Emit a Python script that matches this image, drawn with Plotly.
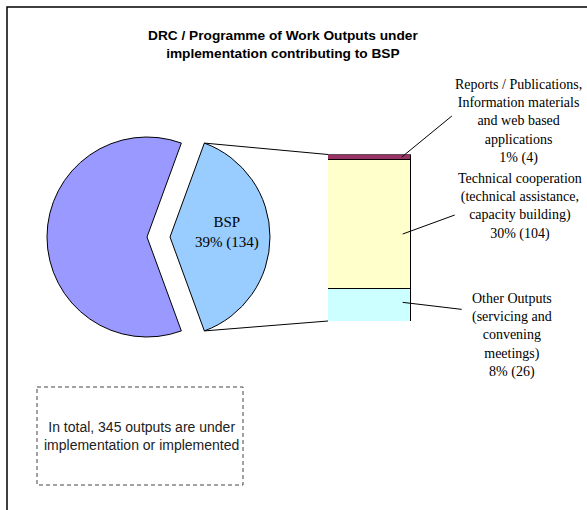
import math
import plotly.graph_objects as go

# ---------------- data ----------------
total_outputs = 345
pie_labels = ["BSP", "Other"]
pie_values = [134, 211]
pie_colors = ["#99CCFF", "#9999FF"]

bar_names = [
    "Other Outputs<br>(servicing and<br>convening<br>meetings)",
    "Technical cooperation<br>(technical assistance,<br>capacity building)",
    "Reports / Publications,<br>Information materials<br>and web based<br>applications",
]
bar_values = [26, 104, 4]
bar_colors = ["#CCFFFF", "#FFFFCC", "#993366"]

title_text = "DRC / Programme of Work Outputs under<br>implementation contributing to BSP"
note_text = "In total, 345 outputs are under<br>implementation or implemented"

# ---------------- layout helpers (pixels -> paper) ----------------
W, H = 587, 510


def px(x):
    return x / W


def py(y):
    return 1 - y / H


SERIF = "Liberation Serif, Times New Roman, serif"
SANS = "Liberation Sans, Arial, sans-serif"

# pie geometry
CX, CY, R, PULL = 147, 237, 100, 0.23
ext = R * (1 + PULL)
bsp = pie_values[0]
frac = bsp / total_outputs
rotation = 90 - 180 * frac

# bar geometry
BX0, BX1, BY_TOP, BY_BOT = 328, 411, 154.5, 321
bar_total = sum(bar_values)


def bar_x(v):  # bar x data (-0.5..0.5) -> pixel
    return BX0 + (v + 0.5) * (BX1 - BX0)


def bar_y(v):  # bar y data -> pixel
    return BY_BOT - v / bar_total * (BY_BOT - BY_TOP)


fig = go.Figure()

fig.add_trace(go.Pie(
    labels=pie_labels, values=pie_values, sort=False, direction="clockwise",
    rotation=rotation, pull=[PULL, 0],
    marker=dict(colors=pie_colors, line=dict(color="#000000", width=1)),
    textinfo="none", hoverinfo="label+value", showlegend=False,
    domain=dict(x=[px(CX - ext), px(CX + ext)], y=[py(CY + ext), py(CY - ext)]),
))

for name, v, c in zip(bar_names, bar_values, bar_colors):
    fig.add_trace(go.Bar(
        x=[0], y=[v], width=[1], name=name.split("<br>")[0],
        marker=dict(color=c, line=dict(color="#000000", width=1)),
        showlegend=False, hoverinfo="name+y",
    ))

shapes = []
# outer border
shapes.append(dict(type="rect", xref="paper", yref="paper",
                   x0=px(7), y0=py(7), x1=px(W + 5), y1=py(H + 5),
                   line=dict(color="#000000", width=1.5), layer="below"))
# dashed note box
shapes.append(dict(type="rect", xref="paper", yref="paper",
                   x0=px(37), y0=py(387), x1=px(243), y1=py(485),
                   line=dict(color="#444444", width=1, dash="4px,3px")))

# connector lines from exploded slice to bar
half = math.pi * frac
apex_x = CX + PULL * R
ex = apex_x + R * math.cos(half)
ey_top = CY - R * math.sin(half)
ey_bot = CY + R * math.sin(half)
for ey, by in [(ey_top, bar_y(bar_total)), (ey_bot, bar_y(0))]:
    shapes.append(dict(type="line", xref="paper", yref="paper",
                       x0=px(ex), y0=py(ey), x1=px(bar_x(-0.5)), y1=py(by),
                       line=dict(color="#000000", width=1)))

# leader lines from bar segments to labels
leaders = [  # (x data, y data, dx px, dy px up)
    (0.4, 15, 59, -7),
    (0.4, 70, 52, 19),
    (0.39, bar_values[0] + bar_values[1] + bar_values[2] / 2, 50, 41),
]
for xa, ya, dx, dy in leaders:
    tx, ty = bar_x(xa), bar_y(ya)
    shapes.append(dict(type="line", xref="paper", yref="paper",
                       x0=px(tx), y0=py(ty), x1=px(tx + dx), y1=py(ty - dy),
                       line=dict(color="#000000", width=1)))

annotations = []
label_pos = [(512, 335), (520, 206), (518, 121)]
for name, v, (lx, ly) in zip(bar_names, bar_values, label_pos):
    pct = round(100 * v / total_outputs)
    annotations.append(dict(
        xref="paper", yref="paper", x=px(lx), y=py(ly),
        xanchor="center", yanchor="middle", align="center", showarrow=False,
        text=f"{name}<br>{pct}% ({v})",
        font=dict(family=SERIF, size=14, color="#000000"),
    ))

annotations.append(dict(
    xref="paper", yref="paper", x=px(226.5), y=py(233),
    xanchor="center", yanchor="middle", align="center", showarrow=False,
    text=f"{pie_labels[0]}<br>{round(100 * frac)}% ({bsp})",
    font=dict(family=SERIF, size=15, color="#000000"),
))

annotations.append(dict(
    xref="paper", yref="paper", x=px(141), y=py(436),
    xanchor="center", yanchor="middle", align="center", showarrow=False,
    text=note_text, font=dict(family=SANS, size=14, color="#222222"),
))

# chart title
annotations.append(dict(
    xref="paper", yref="paper", x=px(283), y=py(44.5),
    xanchor="center", yanchor="middle", align="center", showarrow=False,
    text=title_text,
    font=dict(family=SANS, size=13.7, color="#000000", weight="bold"),
))

fig.update_layout(
    width=W, height=H, autosize=False,
    margin=dict(l=0, r=0, t=0, b=0),
    paper_bgcolor="#FFFFFF", plot_bgcolor="rgba(0,0,0,0)",
    barmode="stack", bargap=0,
    xaxis=dict(domain=[px(BX0), px(BX1)], range=[-0.5, 0.5], visible=False, fixedrange=True),
    yaxis=dict(domain=[py(BY_BOT), py(BY_TOP)], range=[0, bar_total], visible=False, fixedrange=True),
    shapes=shapes, annotations=annotations,
)

fig.write_html("out.html", config={"displayModeBar": False},
               post_script="document.body.style.margin='0';")
